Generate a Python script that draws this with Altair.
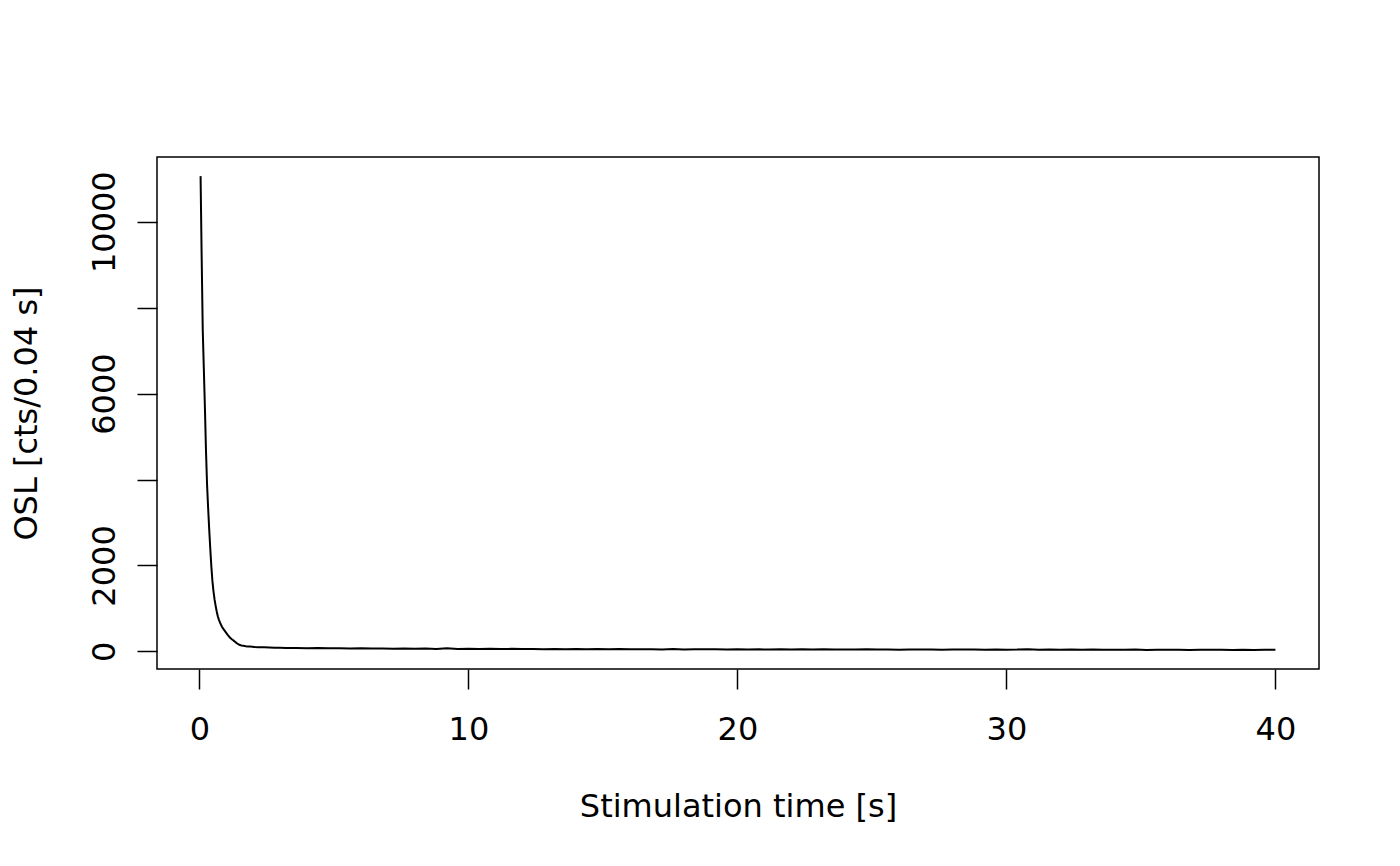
import altair as alt
import pandas as pd

# Stimulation time [s] and OSL counts per 0.04 s channel
decay_time = [0.04, 0.08, 0.12, 0.16, 0.20, 0.24, 0.28, 0.32, 0.36, 0.40,
              0.44, 0.48, 0.52, 0.56, 0.60, 0.64, 0.68, 0.72, 0.76, 0.80,
              0.84, 0.88, 0.92, 0.96, 1.00, 1.04, 1.08, 1.12, 1.16, 1.20,
              1.24, 1.28, 1.32, 1.36, 1.40, 1.44, 1.48, 1.56, 1.64, 1.72,
              1.80, 1.88, 1.96, 2.04, 2.20, 2.40, 2.60, 2.80, 3.00, 3.20]
decay_counts = [11060, 9200, 7500, 6600, 5700, 4700, 3900, 3350, 2850, 2400,
                1980, 1640, 1400, 1210, 1060, 930, 820, 740, 675, 620,
                570, 530, 495, 460, 425, 390, 360, 330, 305, 285,
                265, 245, 225, 205, 185, 168, 155, 140, 130, 122,
                117, 112, 108, 104, 100, 97, 92, 88, 85, 82]

tail_time = [round(3.6 + 0.4 * i, 2) for i in range(92)]
tail_counts = [80, 74, 79, 71, 76, 68, 73, 66, 70, 63, 68,
               61, 66, 59, 72, 58, 63, 57, 61, 55, 60, 54,
               58, 52, 57, 50, 56, 51, 54, 49, 55, 48, 53,
               50, 47, 54, 46, 51, 48, 52, 45, 50, 47, 49,
               44, 50, 46, 48, 43, 49, 45, 47, 42, 48, 44,
               46, 41, 47, 43, 45, 40, 46, 42, 44, 39, 45,
               41, 43, 52, 40, 44, 38, 42, 40, 43, 37, 41,
               39, 42, 36, 40, 38, 41, 35, 39, 37, 40, 32,
               38, 36, 39, 37]

x_ticks = [0, 10, 20, 30, 40]
y_ticks = [0, 2000, 4000, 6000, 8000, 10000]

df = pd.DataFrame({"t": decay_time + tail_time,
                   "osl": decay_counts + tail_counts})

FONT = "DejaVu Sans"
W, H = 1162, 512

chart = alt.Chart(df).mark_line(color="black", strokeWidth=2).encode(
    x=alt.X("t:Q",
            scale=alt.Scale(domain=[-1.58, 41.62], nice=False, zero=False),
            axis=alt.Axis(values=x_ticks, format="d", title="Stimulation time [s]",
                          labelBaseline="alphabetic", labelPadding=50,
                          labelAlign="center",
                          titleX=W / 2, titleY=147, titleBaseline="alphabetic",
                          titleAlign="center")),
    y=alt.Y("osl:Q",
            scale=alt.Scale(domain=[-409, 11505], nice=False, zero=False),
            axis=alt.Axis(values=y_ticks, format="d", title="OSL [cts/0.04 s]",
                          labelAngle=270, labelAlign="center",
                          labelBaseline="alphabetic", labelPadding=23,
                          labelExpr="datum.value == 4000 || datum.value == 8000 ? '' : datum.label",
                          titleAngle=270, titleX=-121, titleY=H / 2,
                          titleBaseline="alphabetic", titleAlign="center")),
).properties(
    width=W, height=H,
    padding={"left": 149, "top": 149, "right": 73, "bottom": 189},
    autosize=alt.AutoSizeParams(type="none"),
).configure_view(
    stroke="black", strokeWidth=1.5
).configure_axis(
    grid=False, domain=False, ticks=True, tickSize=20, tickColor="black",
    tickWidth=1.5, labelFont=FONT, labelFontSize=32, labelColor="black",
    titleFont=FONT, titleFontSize=32, titleColor="black", titleFontWeight="normal",
    labelOverlap=False, labelFlush=False
)

chart.save("out.html", embed_options={"renderer": "svg", "actions": False})
